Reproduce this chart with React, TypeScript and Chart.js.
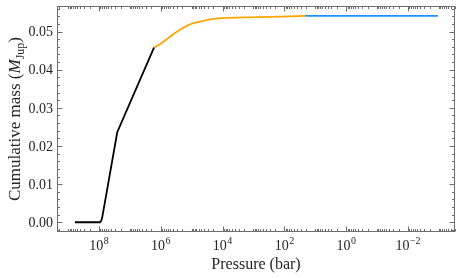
import React, { useEffect, useRef } from "react";
import { Chart, registerables } from "chart.js";

Chart.register(...registerables);

// ---- Data (pressure in bar, cumulative mass in M_Jup) ----
const blackPressure = [6.03e8, 9.33e7, 8.51e7, 7.94e7, 2.57e7, 1.66e6];
const blackMass = [0.0, 0.0, 0.0004, 0.0011, 0.0236, 0.0458];

const orangePressure = [1.66e6, 1.07e6, 6.46e5, 3.98e5, 2.4e5, 1.45e5, 8.91e4, 5.37e4, 2.0e4, 7.41e3, 617, 21.4];
const orangeMass = [0.0458, 0.0467, 0.048, 0.0493, 0.0505, 0.0515, 0.0522, 0.0526, 0.0533, 0.0536, 0.05376, 0.0541];

const bluePressure = [21.4, 1.0, 1.07e-3];
const blueMass = [0.0541, 0.0541, 0.0541];

const yTickValues = [0.0, 0.01, 0.02, 0.03, 0.04, 0.05];
const yTickLabels = ["0.00", "0.01", "0.02", "0.03", "0.04", "0.05"];
const xTickExponents = [8, 6, 4, 2, 0, -2];
const xTickExponentLabels = ["8", "6", "4", "2", "0", "\u22122"];

const X_MIN = 3.0e-4;
const X_MAX = 2.29e9;
const Y_MIN = -0.00255;
const Y_MAX = 0.0567;

const FONT = "'Liberation Serif', 'DejaVu Serif', serif";
const TEXT_COLOR = "#262626";
const AXIS_COLOR = "#6e6e6e";

const toXY = (p: number[], m: number[]) => p.map((v, i) => ({ x: v, y: m[i] }));

const decorPlugin = {
  id: "decor",
  afterDatasetsDraw(chart: any) {
    const { ctx, chartArea: a, scales } = chart;
    const xs = scales.x;
    const ys = scales.y;
    const L = Math.round(a.left) + 0.5;
    const R = Math.round(a.right) - 0.5;
    const T = Math.round(a.top) + 0.5;
    const B = Math.round(a.bottom) - 0.5;
    ctx.save();
    ctx.strokeStyle = AXIS_COLOR;
    ctx.lineWidth = 1;
    const line = (x1: number, y1: number, x2: number, y2: number) => {
      ctx.beginPath();
      ctx.moveTo(x1, y1);
      ctx.lineTo(x2, y2);
      ctx.stroke();
    };
    // spines
    ctx.strokeRect(L, T, R - L, B - T);

    const MAJ = 5;
    const MIN = 2.5;
    // y ticks (minor every 0.002, major every 0.01)
    for (let i = -1; i <= 28; i++) {
      const v = i * 0.002;
      if (v < Y_MIN || v > Y_MAX) continue;
      const isMajor = i % 5 === 0;
      const len = isMajor ? MAJ : MIN;
      const py = Math.round(ys.getPixelForValue(v)) + 0.5;
      line(L, py, L + len, py);
      line(R, py, R - len, py);
    }
    // x ticks
    for (let n = -5; n <= 10; n++) {
      for (let k = 1; k <= 9; k++) {
        const v = k * Math.pow(10, n);
        if (v < X_MIN || v > X_MAX) continue;
        const isMajor = k === 1 && xTickExponents.includes(n);
        const len = isMajor ? MAJ : MIN;
        const px = Math.round(xs.getPixelForValue(v)) + 0.5;
        line(px, B, px, B - len);
        line(px, T, px, T + len);
      }
    }

    // y tick labels
    ctx.fillStyle = TEXT_COLOR;
    ctx.font = `14px ${FONT}`;
    ctx.textAlign = "right";
    ctx.textBaseline = "middle";
    yTickValues.forEach((v, i) => {
      ctx.fillText(yTickLabels[i], a.left - 4, ys.getPixelForValue(v) + 1);
    });

    // x tick labels: 10^n
    ctx.textBaseline = "alphabetic";
    ctx.textAlign = "left";
    xTickExponents.forEach((n, i) => {
      const px = xs.getPixelForValue(Math.pow(10, n));
      ctx.font = `14px ${FONT}`;
      const wBase = ctx.measureText("10").width;
      ctx.font = `10px ${FONT}`;
      const wExp = ctx.measureText(xTickExponentLabels[i]).width;
      const x0 = px - (wBase + wExp + 0.5) / 2;
      ctx.font = `14px ${FONT}`;
      ctx.fillText("10", x0, 250);
      ctx.font = `10px ${FONT}`;
      ctx.fillText(xTickExponentLabels[i], x0 + wBase + 0.5, 244);
    });

    // x axis title
    ctx.font = `16px ${FONT}`;
    ctx.textAlign = "center";
    ctx.fillText("Pressure (bar)", (a.left + a.right) / 2, 269);

    // y axis title with italic M and subscript Jup
    const parts = [
      { t: "Cumulative mass (", f: `17px ${FONT}`, dy: 0 },
      { t: "M", f: `italic 17px ${FONT}`, dy: 0 },
      { t: "Jup", f: `12px ${FONT}`, dy: 4 },
      { t: ")", f: `17px ${FONT}`, dy: 0 },
    ];
    let total = 0;
    const widths = parts.map((p) => {
      ctx.font = p.f;
      const w = ctx.measureText(p.t).width;
      total += w;
      return w;
    });
    ctx.translate(20, (a.top + a.bottom) / 2);
    ctx.rotate(-Math.PI / 2);
    ctx.textAlign = "left";
    let cx = -total / 2;
    parts.forEach((p, i) => {
      ctx.font = p.f;
      ctx.fillText(p.t, cx, p.dy);
      cx += widths[i];
    });
    ctx.restore();
  },
};

export default function App() {
  const canvasRef = useRef<HTMLCanvasElement | null>(null);

  useEffect(() => {
    const canvas = canvasRef.current;
    if (!canvas) return;
    const chart = new Chart(canvas, {
      type: "line",
      data: {
        datasets: [
          {
            data: toXY(blackPressure, blackMass),
            borderColor: "#000000",
            borderWidth: 1.8,
            pointRadius: 0,
            tension: 0,
          },
          {
            data: toXY(orangePressure, orangeMass),
            borderColor: "#ffa500",
            borderWidth: 1.8,
            pointRadius: 0,
            cubicInterpolationMode: "monotone",
          },
          {
            data: toXY(bluePressure, blueMass),
            borderColor: "#1e90ff",
            borderWidth: 1.8,
            pointRadius: 0,
            tension: 0,
          },
        ],
      },
      options: {
        responsive: false,
        animation: false,
        devicePixelRatio: 1,
        layout: { padding: { left: 57, right: 8, top: 6, bottom: 46 } },
        plugins: { legend: { display: false }, tooltip: { enabled: false } },
        scales: {
          x: { type: "logarithmic", reverse: true, min: X_MIN, max: X_MAX, display: false },
          y: { type: "linear", min: Y_MIN, max: Y_MAX, display: false },
        },
      },
      plugins: [decorPlugin],
    } as any);
    return () => chart.destroy();
  }, []);

  return (
    <div style={{ position: "fixed", left: 0, top: 0, width: 463, height: 278, background: "#fff" }}>
      <canvas ref={canvasRef} width={463} height={278} />
    </div>
  );
}
